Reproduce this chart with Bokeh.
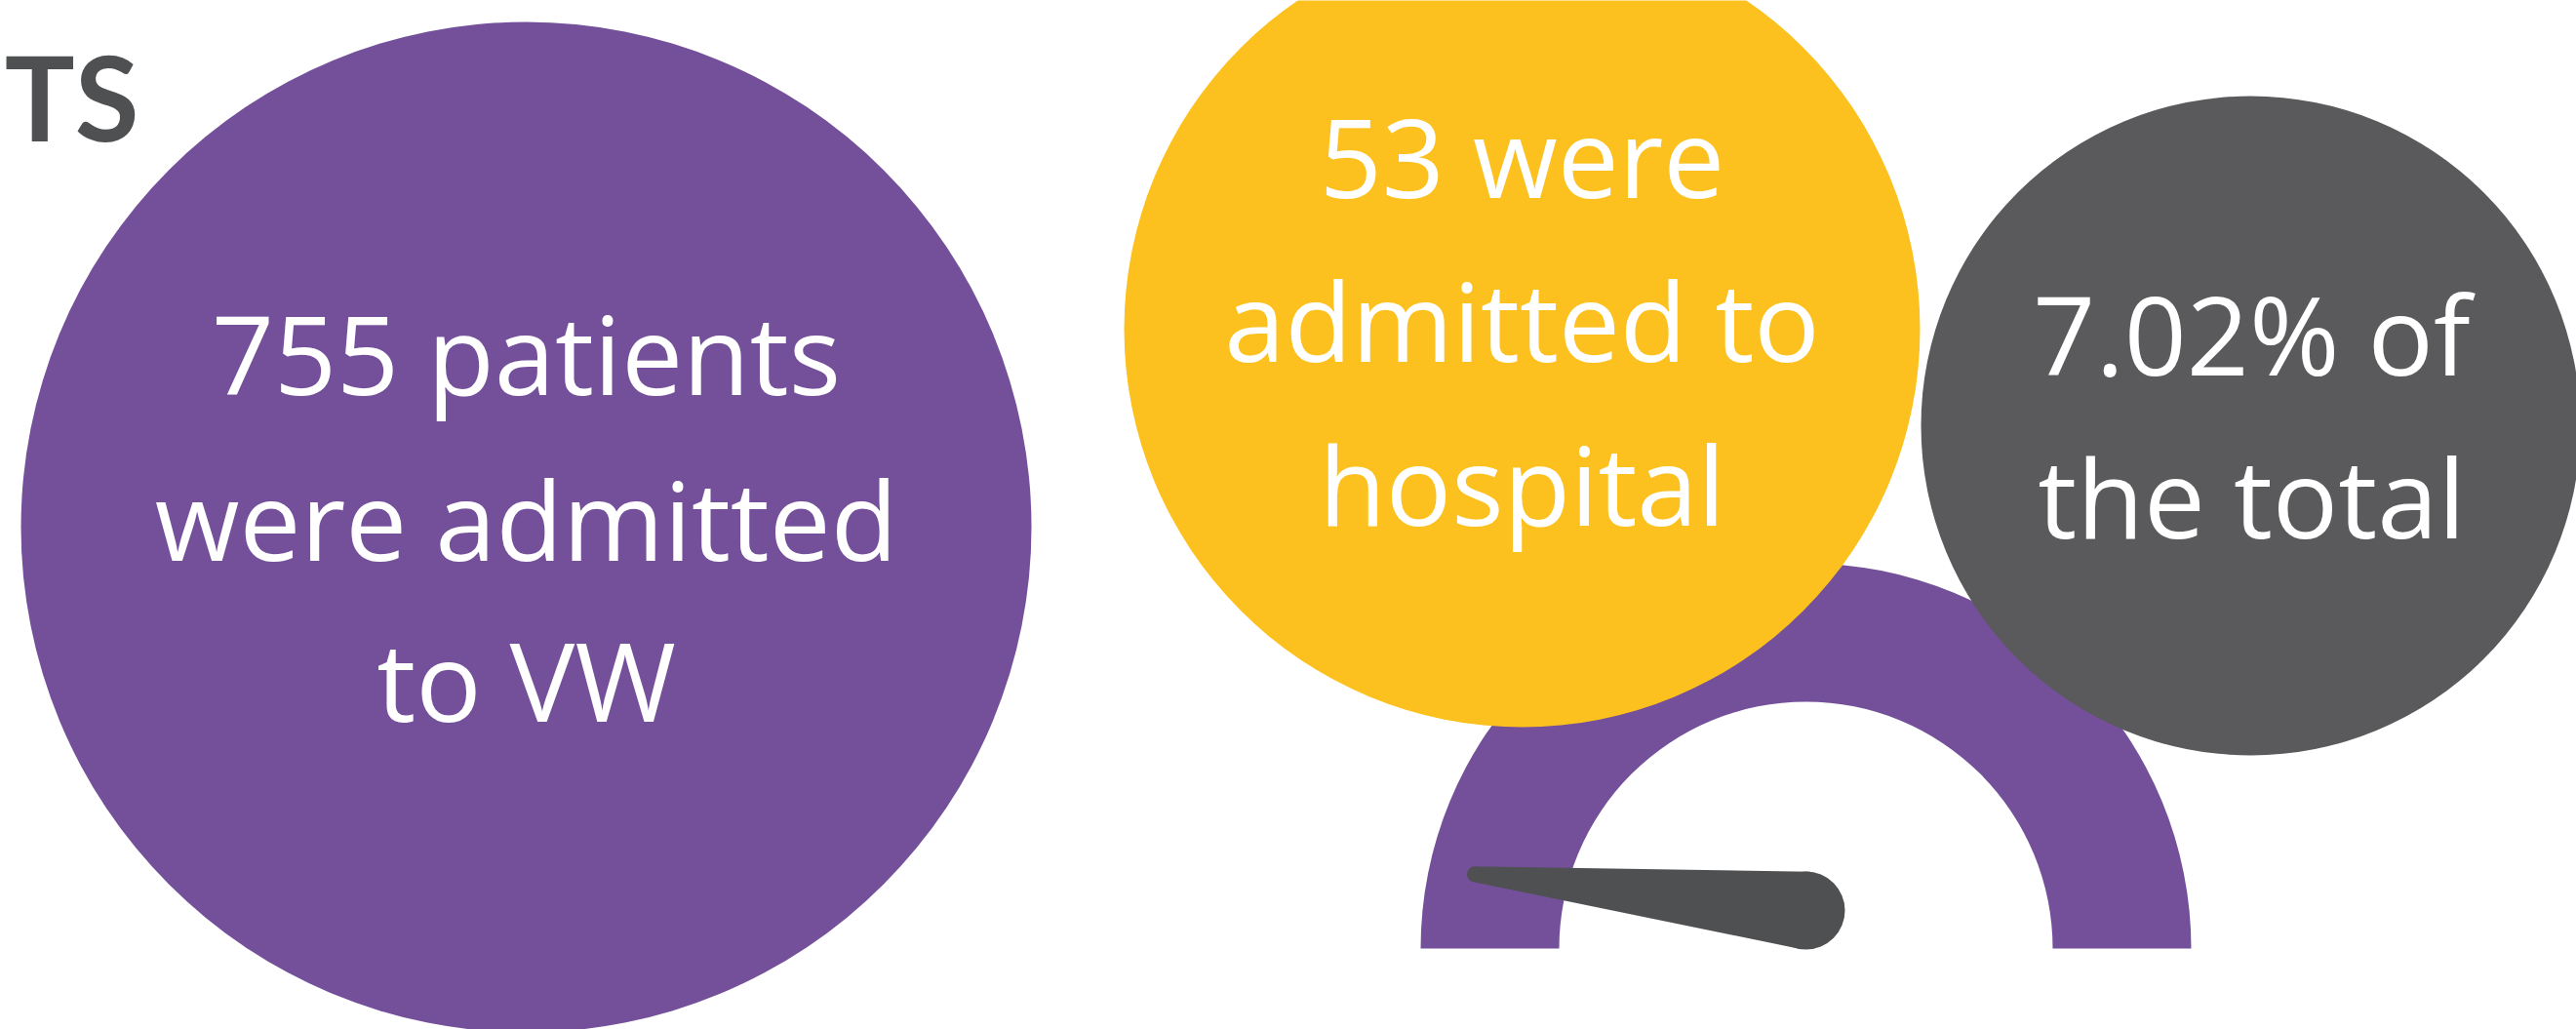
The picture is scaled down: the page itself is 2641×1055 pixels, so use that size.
import math
from bokeh.plotting import figure
from bokeh.models import Range1d
from bokeh.embed import file_html
from bokeh.resources import INLINE
from bokeh.core.properties import value

# ---------------- data ----------------
admitted_vw = 755
admitted_hospital = 53
pct_of_total = 7.02
lines_vw = [f"{admitted_vw} patients", "were admitted", "to VW"]
lines_hosp = [f"{admitted_hospital} were", "admitted to", "hospital"]
lines_pct = [f"{pct_of_total:.2f}% of", "the total"]
heading_tail = "TS"

# ---------------- styles ----------------
PURPLE = "#74509b"
YELLOW = "#fcc11f"
GRAY = "#5a5a5c"
NEEDLE = "#4f5052"
HEAD = "#4f5052"
FONT = "Open Sans"
FS = "112px"
TXT_SHIFT = 42  # compensates renderer baseline placement

PW, PH = 2641, 1055
def Y(screen_y):
    return PH - screen_y

p = figure(width=PW, height=PH,
           x_range=Range1d(0, PW), y_range=Range1d(0, PH),
           output_backend="svg", toolbar_location=None, min_border=0)
p.axis.visible = False
p.xgrid.visible = False
p.ygrid.visible = False
p.outline_line_color = None
p.background_fill_color = "white"
p.border_fill_color = "white"

# heading fragment
p.text(x=[142], y=[Y(140) + TXT_SHIFT], text=[heading_tail], text_font=value("Lato"),
       text_font_size="120px", text_font_style="bold", text_color=HEAD,
       text_align="right", text_baseline="alphabetic")

# big purple bubble
p.circle(x=[539], y=[Y(540)], radius=518, fill_color=PURPLE, line_color=None)

# gauge
gcx, gcy = 1851, Y(972)
p.annular_wedge(x=gcx, y=gcy, inner_radius=253, outer_radius=395,
                start_angle=0, end_angle=math.pi, fill_color=PURPLE, line_color=None)

# yellow and gray bubbles
p.circle(x=[1560], y=[Y(337)], radius=408, fill_color=YELLOW, line_color=None)
p.circle(x=[2307], y=[Y(436)], radius=338, fill_color=GRAY, line_color=None)

# needle driven by percentage
theta = math.pi * (1 - pct_of_total / 100.0)
L = 348
bx, by, br = gcx, gcy + 39, 40
tx, ty, tr = gcx + L * math.cos(theta), gcy + L * math.sin(theta), 8
ux, uy = tx - bx, ty - by
d = math.hypot(ux, uy)
ux, uy = ux / d, uy / d
nx, ny = -uy, ux
px = [bx + br * nx, tx + tr * nx, tx - tr * nx, bx - br * nx]
py = [by + br * ny, ty + tr * ny, ty - tr * ny, by - br * ny]
p.patch(px, py, fill_color=NEEDLE, line_color=None)
p.circle(x=[bx, tx], y=[by, ty], radius=[br, tr], fill_color=NEEDLE, line_color=None)

# texts
def block(lines, cx, baselines):
    p.text(x=[cx] * len(lines), y=[Y(b) + TXT_SHIFT for b in baselines], text=lines,
           text_font=value(FONT), text_font_size=FS, text_color="white",
           text_align="center", text_baseline="alphabetic")

block(lines_vw, 539, [403, 573, 738])
block(lines_hosp, 1560, [201, 369, 537])
block(lines_pct, 2308, [383, 550])

open("out.html", "w").write(file_html(p, INLINE))
